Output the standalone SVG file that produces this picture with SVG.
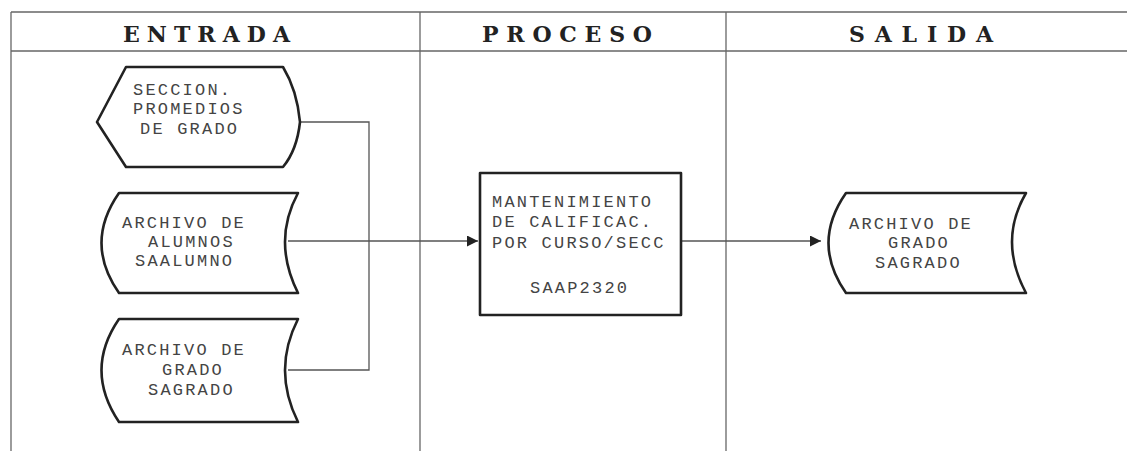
<svg xmlns="http://www.w3.org/2000/svg" width="1127" height="451" viewBox="0 0 1127 451">
<defs>
<style>
.frame{stroke:#666;stroke-width:1.3;fill:none}
.shape{stroke:#222;stroke-width:2.6;fill:#fff;stroke-linejoin:round}
.conn{stroke:#555;stroke-width:1.3;fill:none}
.hdr{font-family:"DejaVu Serif","Liberation Serif",serif;font-size:22px;font-weight:bold;fill:#222}
.lbl{font-family:"Liberation Mono","DejaVu Sans Mono",monospace;font-size:17px;letter-spacing:2.2px;fill:#444}
</style>
<marker id="arr" viewBox="0 0 10 10" refX="10" refY="5" markerWidth="12" markerHeight="11" markerUnits="userSpaceOnUse" orient="auto">
<path d="M0,0 L10,5 L0,10 z" fill="#222"/>
</marker>
</defs>
<rect width="1127" height="451" fill="#fff"/>
<g id="frame">
<line class="frame" x1="11" y1="12" x2="1127" y2="12"/>
<line class="frame" x1="11" y1="51" x2="1127" y2="51"/>
<line class="frame" x1="11" y1="12" x2="11" y2="451"/>
<line class="frame" x1="420" y1="12" x2="420" y2="451"/>
<line class="frame" x1="726" y1="12" x2="726" y2="451"/>
<text class="hdr" x="123" y="42" textLength="167" lengthAdjust="spacing">ENTRADA</text>
<text class="hdr" x="482" y="42" textLength="170" lengthAdjust="spacing">PROCESO</text>
<text class="hdr" x="849" y="42" textLength="144" lengthAdjust="spacing">SALIDA</text>
</g>
<g id="connectors">
<polyline class="conn" points="300,122 369,122 369,370 288,370"/>
<line class="conn" x1="288" y1="241" x2="478" y2="241" marker-end="url(#arr)"/>
<line class="conn" x1="681" y1="241" x2="821" y2="241" marker-end="url(#arr)"/>
</g>
<g id="n1">
<path class="shape" d="M97,122 L126,67 L283,67 Q297,90 300,122 Q297,150 283,167 L126,167 Z"/>
<text class="lbl" x="133" y="95">SECCION.</text>
<text class="lbl" x="133" y="114">PROMEDIOS</text>
<text class="lbl" x="140" y="134">DE GRADO</text>
</g>
<g id="n2">
<path class="shape" d="M119,193 L298,193 Q272,241 298,293 L119,293 Q84,243 119,193 Z"/>
<text class="lbl" x="122" y="228">ARCHIVO DE</text>
<text class="lbl" x="148" y="247">ALUMNOS</text>
<text class="lbl" x="135" y="266">SAALUMNO</text>
</g>
<g id="n3">
<path class="shape" d="M119,319 L298,319 Q272,370 298,422 L119,422 Q84,370 119,319 Z"/>
<text class="lbl" x="122" y="355">ARCHIVO DE</text>
<text class="lbl" x="162" y="375">GRADO</text>
<text class="lbl" x="148" y="395">SAGRADO</text>
</g>
<g id="n4">
<rect class="shape" x="480" y="173" width="201" height="142" stroke-width="3.2"/>
<text class="lbl" x="492" y="207">MANTENIMIENTO</text>
<text class="lbl" x="492" y="227">DE CALIFICAC.</text>
<text class="lbl" x="492" y="248">POR CURSO/SECC</text>
<text class="lbl" x="530" y="293">SAAP2320</text>
</g>
<g id="n5">
<path class="shape" d="M846,193 L1026,193 Q998,241 1026,293 L846,293 Q811,243 846,193 Z"/>
<text class="lbl" x="849" y="229">ARCHIVO DE</text>
<text class="lbl" x="888" y="248">GRADO</text>
<text class="lbl" x="875" y="268">SAGRADO</text>
</g>
</svg>
